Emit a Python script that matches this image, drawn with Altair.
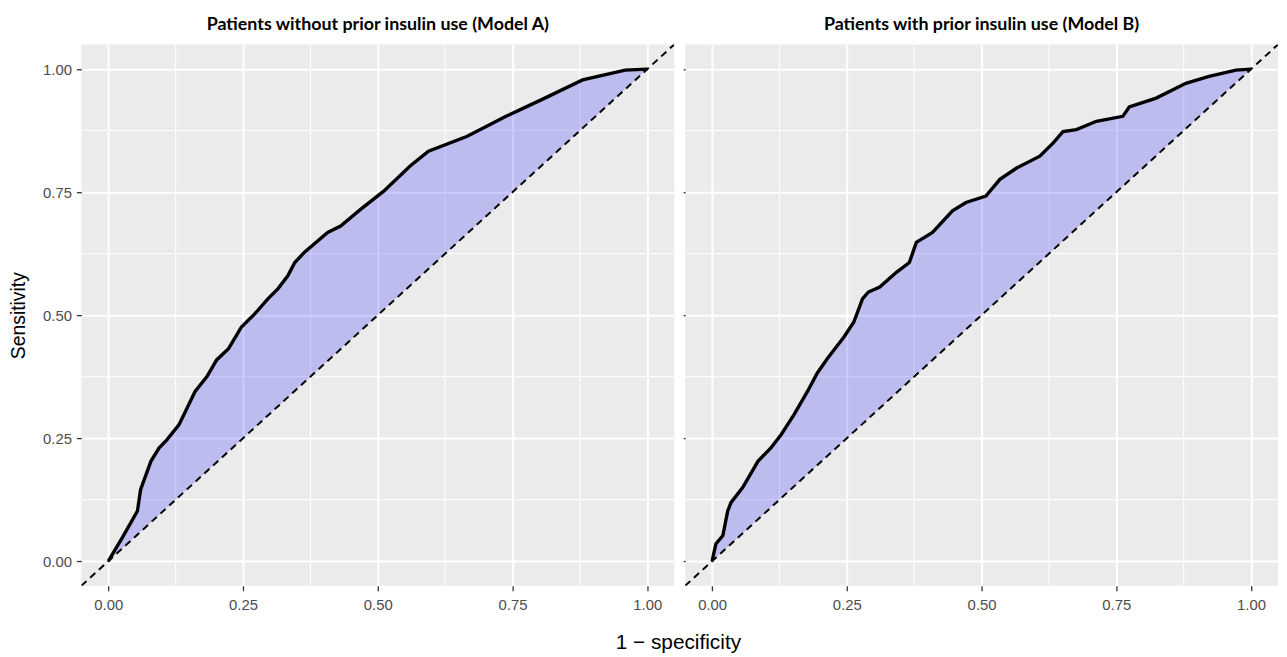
import altair as alt
import pandas as pd

# ROC curve, model A (patients without prior insulin use)
fpr_a = [0, 0.026, 0.054, 0.060, 0.079, 0.094, 0.109, 0.131, 0.161, 0.183, 0.201,
         0.223, 0.247, 0.272, 0.296, 0.315, 0.333, 0.346, 0.364, 0.407, 0.431,
         0.468, 0.511, 0.560, 0.594, 0.665, 0.738, 0.806, 0.880, 0.959, 1.0]
tpr_a = [0, 0.048, 0.102, 0.146, 0.203, 0.230, 0.247, 0.277, 0.345, 0.375, 0.409,
         0.432, 0.476, 0.503, 0.533, 0.554, 0.580, 0.607, 0.628, 0.668, 0.681,
         0.715, 0.752, 0.803, 0.833, 0.863, 0.904, 0.939, 0.978, 0.998, 1.0]

# ROC curve, model B (patients with prior insulin use)
fpr_b = [0, 0.007, 0.020, 0.029, 0.035, 0.057, 0.085, 0.109, 0.128, 0.152, 0.177,
         0.195, 0.214, 0.245, 0.263, 0.279, 0.290, 0.311, 0.342, 0.366, 0.379,
         0.409, 0.446, 0.471, 0.508, 0.534, 0.565, 0.608, 0.633, 0.651, 0.676,
         0.713, 0.762, 0.774, 0.824, 0.879, 0.922, 0.972, 1.0]
tpr_b = [0, 0.035, 0.052, 0.102, 0.119, 0.150, 0.203, 0.230, 0.257, 0.298, 0.345,
         0.382, 0.412, 0.456, 0.486, 0.533, 0.547, 0.557, 0.587, 0.607, 0.648,
         0.668, 0.712, 0.729, 0.742, 0.776, 0.799, 0.823, 0.850, 0.873, 0.877,
         0.894, 0.904, 0.923, 0.941, 0.971, 0.985, 0.998, 1.0]

titles = ["Patients without prior insulin use (Model A)",
          "Patients with prior insulin use (Model B)"]
major_ticks = [0, 0.25, 0.5, 0.75, 1.0]
minor_ticks = [0.125, 0.375, 0.625, 0.875]
diag_ends = [-0.05, 1.05]

W, H = 598, 546
LABEL_FONT = "Liberation Sans"


def panel(fpr, tpr, title, show_y):
    df = pd.DataFrame({"fpr": fpr, "tpr": tpr})
    df["diag"] = df["fpr"]
    xs = alt.Scale(domain=[-0.05, 1.05], nice=False, zero=False)
    ys = alt.Scale(domain=[-0.05, 1.05], nice=False, zero=False)
    common = dict(values=major_ticks, format=".2f", grid=True, gridColor="white",
                  gridWidth=2, domain=False, tickColor="#333333", tickWidth=1.3,
                  labelColor="#4D4D4D", labelFont=LABEL_FONT, labelFontSize=15,
                  titleFont=LABEL_FONT, titleFontSize=19.5, titleFontWeight="normal",
                  titleColor="black")
    xaxis = alt.Axis(title=None, tickSize=5, labelPadding=7, **common)
    if show_y:
        yaxis = alt.Axis(title="Sensitivity", tickSize=5, labelPadding=5,
                         titlePadding=14, **common)
    else:
        yaxis = alt.Axis(title=None, tickSize=2, labels=False, **common)

    minor_df = pd.DataFrame({"v": minor_ticks})
    diag_df = pd.DataFrame({"d": diag_ends})

    minor_x = alt.Chart(minor_df).mark_rule(color="white", strokeWidth=1).encode(
        x=alt.X("v:Q", scale=xs, axis=xaxis))
    minor_y = alt.Chart(minor_df).mark_rule(color="white", strokeWidth=1).encode(
        y=alt.Y("v:Q", scale=ys, axis=yaxis))
    area = alt.Chart(df).mark_area(color="#0000FF", opacity=0.2).encode(
        x=alt.X("fpr:Q", scale=xs, axis=xaxis),
        y=alt.Y("tpr:Q", scale=ys, axis=yaxis),
        y2="diag:Q")
    diag = alt.Chart(diag_df).mark_line(color="black", strokeDash=[7, 5],
                                        strokeWidth=2, clip=True).encode(
        x=alt.X("d:Q", scale=xs, axis=xaxis), y=alt.Y("d:Q", scale=ys, axis=yaxis))
    roc = alt.Chart(df).mark_line(color="black", strokeWidth=3.4,
                                  strokeJoin="miter").encode(
        x=alt.X("fpr:Q", scale=xs, axis=xaxis), y=alt.Y("tpr:Q", scale=ys, axis=yaxis))
    return alt.layer(minor_x, minor_y, area, diag, roc).properties(
        width=W, height=H,
        title=alt.TitleParams(title, font="Lato", fontWeight="bold", fontSize=18,
                              color="black", anchor="middle", offset=10))


left = panel(fpr_a, tpr_a, titles[0], True)
right = panel(fpr_b, tpr_b, titles[1], False)

chart = alt.hconcat(left, right, spacing=7).properties(
    title=alt.TitleParams("1 − specificity", orient="bottom", font=LABEL_FONT,
                          fontSize=21, fontWeight="normal", color="black",
                          anchor="middle", offset=20, dx=35),
    padding={"left": 0, "top": 5, "right": 0, "bottom": 0},
).configure_view(fill="#EBEBEB", stroke=None)

chart.save("out.html", embed_options={"renderer": "svg", "actions": False})
